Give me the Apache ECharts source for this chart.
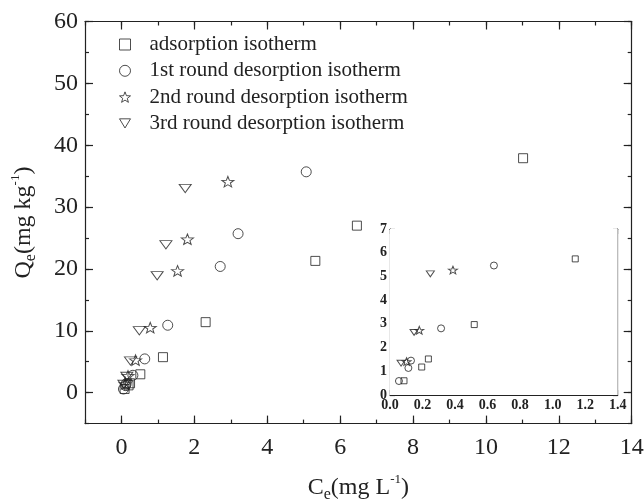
<!DOCTYPE html>
<html>
<head>
<meta charset="utf-8">
<script src="https://cdn.jsdelivr.net/npm/echarts@6/dist/echarts.min.js"></script>
<style>
  html, body { margin: 0; padding: 0; background: #fff; }
  #chart { width: 644px; height: 501px; }
</style>
</head>
<body>
<div id="chart"></div>
<script>
// values (Ce in mg/L, Qe in mg/kg)
const adsCe = [0.086, 0.195, 0.236, 0.518, 1.139, 2.31, 5.32, 6.46, 11.02];
const adsQe = [0.60, 1.18, 1.52, 2.97, 5.74, 11.4, 21.3, 27.0, 37.9];
const des1Ce = [0.055, 0.113, 0.129, 0.314, 0.639, 1.27, 2.71, 3.20, 5.07];
const des1Qe = [0.59, 1.14, 1.45, 2.81, 5.46, 10.9, 20.4, 25.7, 35.7];
const des2Ce = [0.102, 0.18, 0.387, 0.79, 1.54, 1.81, 2.92];
const des2Qe = [1.41, 2.73, 5.27, 10.5, 19.7, 24.8, 34.1];
const des3Ce = [0.068, 0.148, 0.248, 0.49, 0.98, 1.22, 1.75];
const des3Qe = [1.34, 2.64, 5.11, 10.0, 18.9, 23.9, 33.0];

const seriesNames = ['adsorption isotherm', '1st round desorption isotherm',
  '2nd round desorption isotherm', '3rd round desorption isotherm'];
const xTicks = [0, 2, 4, 6, 8, 10, 12, 14];
const yTicks = [0, 10, 20, 30, 40, 50, 60];

const serif = '"Liberation Serif", "Times New Roman", serif';
const ink = '#222';

// 5 point star outline as a path symbol
function starPath() {
  let d = '';
  for (let k = 0; k < 10; k++) {
    const a = -Math.PI / 2 + k * Math.PI / 5;
    const r = k % 2 ? 0.42 : 1;
    d += (k ? 'L' : 'M') + (50 + 50 * r * Math.cos(a)).toFixed(2) + ' ' + (50 + 50 * r * Math.sin(a)).toFixed(2) + ' ';
  }
  return 'path://' + d + 'Z';
}
const triangleDown = 'path://M0 0 L12 0 L6 10 Z';

function pairs(xs, ys) { return xs.map((x, i) => [x, ys[i]]); }
const allData = [pairs(adsCe, adsQe), pairs(des1Ce, des1Qe), pairs(des2Ce, des2Qe), pairs(des3Ce, des3Qe)];

const symbols = ['rect', 'circle', starPath(), triangleDown];
const mainSizes = [9, 10, [12, 11], [12, 10]];
const insetSizes = [6, 7, [9, 8], [8, 7]];
const hollow = { color: 'rgba(0,0,0,0)', borderColor: ink, borderWidth: 1 };

const lineStyle = { color: ink, width: 1.2 };
const rich = {
  t: { fontSize: 24, fontFamily: serif, color: ink, lineHeight: 30 },
  s: { fontSize: 16, fontFamily: serif, color: ink, lineHeight: 16, verticalAlign: 'bottom' },
  p: { fontSize: 13, fontFamily: serif, color: ink, lineHeight: 13, verticalAlign: 'top' }
};

// one axis of the frame; labels only on bottom/left
function axis(pos, grid, range, o) {
  const a = {
    gridIndex: grid, type: 'value', position: pos, min: range[0], max: range[1],
    splitLine: { show: false },
    axisLine: { show: o.line !== false, onZero: false, lineStyle: lineStyle },
    axisTick: { inside: true, length: o.len, lineStyle: lineStyle },
    axisLabel: { show: !!o.label }
  };
  if (o.custom) a.axisTick.customValues = o.custom;
  if (o.interval) a.interval = o.interval;
  if (o.minor) a.minorTick = { show: true, splitNumber: 2, length: o.minor, lineStyle: lineStyle };
  if (o.label) Object.assign(a.axisLabel, o.label);
  if (o.name) Object.assign(a, o.name);
  return a;
}

const mainLabel = { fontSize: 24, fontFamily: serif, color: ink };
const insetLabel = { fontSize: 14, fontWeight: 'bold', fontFamily: serif, color: ink };

const xRange = [-1, 14], yRange = [-5, 60];
const xInset = [0, 1.4], yInset = [0, 7];

const xAxes = [
  axis('bottom', 0, xRange, { len: 8, custom: xTicks,
    label: Object.assign({ customValues: xTicks, margin: 12 }, mainLabel),
    name: { name: '{t|C}{s|e}{t|(mg L}{p|-1}{t|)}', nameLocation: 'middle', nameGap: 49, nameTextStyle: { rich: rich } } }),
  axis('bottom', 0, xRange, { len: 4, interval: 1, line: false }),
  axis('top', 0, xRange, { len: 8, custom: xTicks }),
  axis('top', 0, xRange, { len: 4, interval: 1, line: false }),
  axis('bottom', 1, xInset, { len: 5, interval: 0.2, minor: 3,
    label: Object.assign({ margin: 3, formatter: v => v.toFixed(1) }, insetLabel) }),
  axis('top', 1, xInset, { len: 5, interval: 0.2, minor: 3 })
];
const yAxes = [
  axis('left', 0, yRange, { len: 8, custom: yTicks,
    label: Object.assign({ customValues: yTicks, margin: 7 }, mainLabel),
    name: { name: '{t|Q}{s|e}{t|(mg kg}{p|-1}{t|)}', nameLocation: 'middle', nameRotate: 90, nameGap: 46, nameTextStyle: { rich: rich } } }),
  axis('left', 0, yRange, { len: 4, interval: 5, line: false }),
  axis('right', 0, yRange, { len: 8, custom: yTicks }),
  axis('right', 0, yRange, { len: 4, interval: 5, line: false }),
  axis('left', 1, yInset, { len: 5, interval: 1, minor: 3,
    label: Object.assign({ margin: 3 }, insetLabel) }),
  axis('right', 1, yInset, { len: 5, interval: 1, minor: 3 })
];

const series = [];
seriesNames.forEach((name, i) => {
  const common = {
    name: name, type: 'scatter', symbol: symbols[i], symbolKeepAspect: true,
    itemStyle: hollow, emphasis: { disabled: true }, silent: true
  };
  series.push(Object.assign({}, common, {
    xAxisIndex: 0, yAxisIndex: 0, symbolSize: mainSizes[i], data: allData[i]
  }));
  // inset only shows the low concentration part
  series.push(Object.assign({}, common, {
    xAxisIndex: 4, yAxisIndex: 4, symbolSize: insetSizes[i], z: 5,
    data: allData[i].filter(p => p[0] <= xInset[1] && p[1] <= yInset[1])
  }));
});

const chart = echarts.init(document.getElementById('chart'), null, { renderer: 'canvas' });
chart.setOption({
  animation: false,
  backgroundColor: '#fff',
  grid: [
    { left: 85, top: 21.5, right: 12.3, bottom: 77.4, outerBoundsMode: 'none' },
    { left: 390, top: 229, right: 26.3, bottom: 106, outerBoundsMode: 'none',
      show: true, backgroundColor: '#fff', borderWidth: 0, z: 3 }
  ],
  legend: {
    data: seriesNames, orient: 'vertical', left: 114, top: 29,
    itemWidth: 11, itemHeight: 11, itemGap: 5.3,
    itemStyle: hollow,
    textStyle: { fontSize: 21, fontFamily: serif, color: ink, padding: [0, 0, 0, 14] },
    selectedMode: false
  },
  xAxis: xAxes,
  yAxis: yAxes,
  series: series
});
</script>
</body>
</html>
